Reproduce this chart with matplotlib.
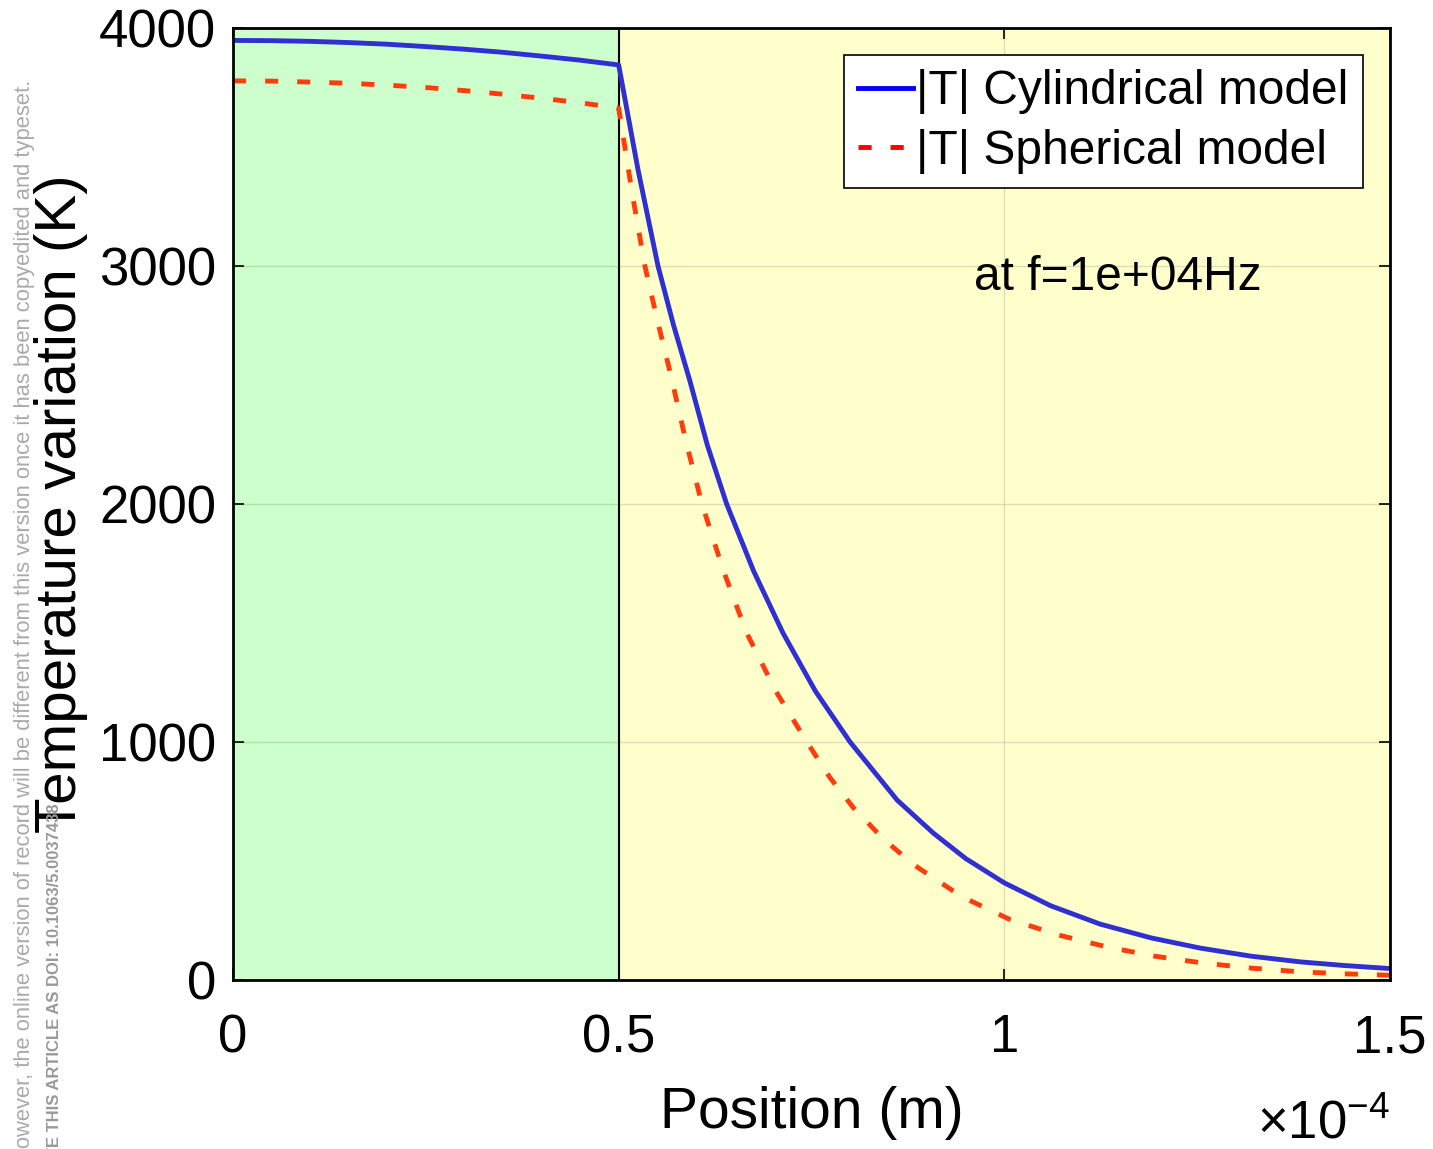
import matplotlib
matplotlib.use("Agg")
import matplotlib.pyplot as plt
from matplotlib.lines import Line2D

# positions are in units of 1e-4 m (axis multiplier shown as x10^-4)
cyl_x = [0.0, 0.05, 0.1, 0.15, 0.2, 0.25, 0.3, 0.35, 0.4, 0.45, 0.5,
         0.525, 0.551, 0.571, 0.592, 0.615, 0.640, 0.675, 0.713, 0.755,
         0.800, 0.861, 0.908, 0.95, 1.0, 1.06, 1.124, 1.19, 1.254, 1.32,
         1.384, 1.44, 1.5]
cyl_T = [3948, 3947, 3944, 3939, 3932, 3922, 3911, 3898, 3882, 3865, 3845,
         3406, 3000, 2753, 2521, 2247, 2000, 1718, 1458, 1214,
         1000, 756, 617, 510, 408, 312, 235, 177, 134, 100,
         76, 61, 48]

sph_x = [0.0, 0.05, 0.1, 0.15, 0.2, 0.25, 0.3, 0.35, 0.4, 0.45, 0.5,
         0.517, 0.534, 0.55, 0.567, 0.587, 0.608, 0.636, 0.666, 0.704,
         0.744, 0.774, 0.804, 0.843, 0.883, 0.945, 1.006, 1.07, 1.133,
         1.195, 1.258, 1.32, 1.384, 1.44, 1.5]
sph_T = [3778, 3777, 3773, 3768, 3760, 3750, 3737, 3722, 3705, 3686, 3664,
         3316, 3000, 2774, 2550, 2266, 2000, 1718, 1458, 1212,
         1000, 850, 725, 593, 483, 350, 256, 189, 139,
         100, 71, 50, 34, 26, 20]

xticks = [0, 0.5, 1, 1.5]
xticklabels = ['0', '0.5', '1', '1.5']
yticks = [0, 1000, 2000, 3000, 4000]
interface = 0.5

plt.rcParams['font.family'] = ['Liberation Sans', 'DejaVu Sans']
plt.rcParams['mathtext.fontset'] = 'custom'
plt.rcParams['mathtext.rm'] = 'Liberation Sans'

fig = plt.figure(figsize=(14.33, 11.49), dpi=100)
ax = fig.add_axes([0.1626, 0.1471, 0.8074, 0.8285])

ax.axvspan(0, interface, color='#ccffcc', zorder=0, lw=0)
ax.axvspan(interface, 1.5, color='#ffffcc', zorder=0, lw=0)
ax.axvline(interface, color='black', lw=1.5, zorder=3)

ax.plot(cyl_x, cyl_T, color='#2f2fd2', lw=3.5, zorder=4)
ax.plot(sph_x, sph_T, color='#ff3c0c', lw=3.5, dashes=(2.7, 3.9), zorder=4)

ax.set_xlim(0, 1.5)
ax.set_ylim(0, 4000)
ax.set_xticks(xticks)
ax.set_xticklabels(xticklabels)
ax.set_yticks(yticks)
ax.grid(True, color='0.15', alpha=0.15, lw=1)
ax.set_axisbelow(False)
ax.tick_params(direction='in', length=8, width=1.2, top=True, right=True,
               labelsize=38, colors='black')
ax.tick_params(axis='x', pad=24)
ax.tick_params(axis='y', pad=12)
for s in ax.spines.values():
    s.set_linewidth(2)
    s.set_zorder(5)

ax.set_xlabel('Position (m)', fontsize=41, labelpad=16)
ax.set_ylabel('Temperature variation (K)', fontsize=42, labelpad=8)

handles = [Line2D([], [], color='blue', lw=3.5),
           Line2D([], [], color='red', lw=3.5, dashes=(2.7, 3.9))]
leg = ax.legend(handles, ['|T| Cylindrical model', '|T| Spherical model'],
                loc='upper right', bbox_to_anchor=(0.9767, 0.9716),
                borderaxespad=0, fontsize=34.5, fancybox=False,
                edgecolor='black', framealpha=1, handlelength=1.15,
                handletextpad=0.06, labelspacing=0.3, borderpad=0.3)
leg.get_frame().set_linewidth(1.2)
leg.set_zorder(6)

ax.text(0.961, 2950, 'at f=1e+04Hz', fontsize=34.5, ha='left', va='center')

fig.text(1390 / 1433, 1 - 1138 / 1149, r'$\mathregular{\times10^{-4}}$',
         fontsize=38, ha='right', va='baseline')

# watermark strips along the left edge
fig.text(25 / 1433, 1 - 80 / 1149,
         'However, the online version of record will be different from this '
         'version once it has been copyedited and typeset.',
         rotation=90, rotation_mode='anchor', ha='right', va='center',
         fontsize=15.8, color='#aaaaaa')
fig.text(55 / 1433, 1 - 803 / 1149,
         'PLEASE CITE THIS ARTICLE AS DOI: 10.1063/5.0037438',
         rotation=90, rotation_mode='anchor', ha='right', va='center',
         fontsize=12.0, color='#999999', fontweight='bold')

fig.savefig('out.png', dpi=100)
